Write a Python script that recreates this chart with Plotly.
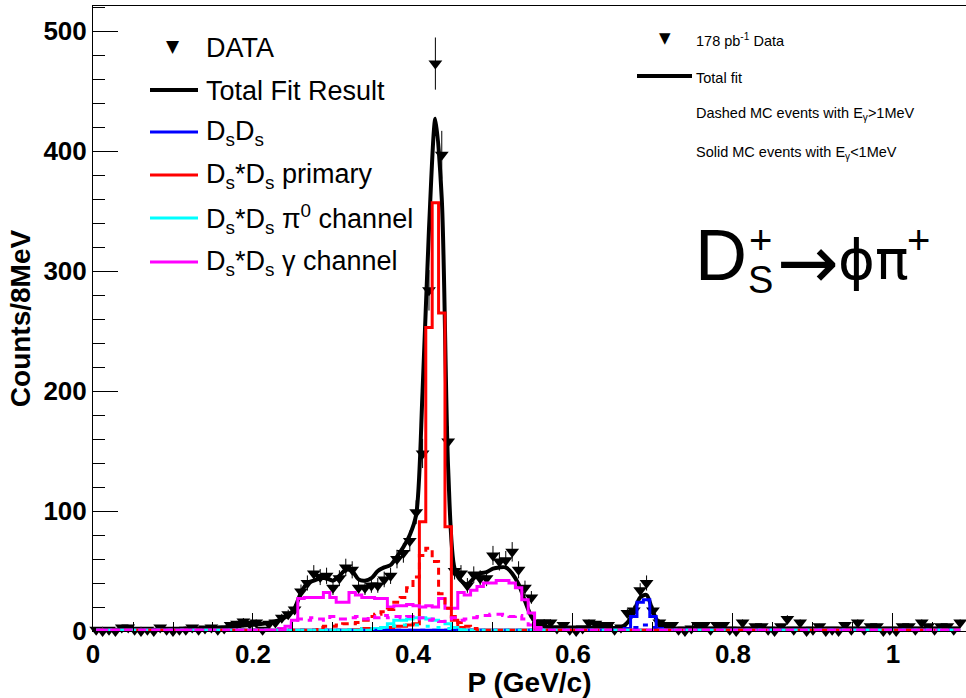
import numpy as np
import plotly.graph_objects as go

# ---------------- data ----------------
bin_width = 0.008           # GeV/c  (8 MeV bins)
n_bins = 136
bin_centers = [round(0.004 + bin_width * k, 4) for k in range(n_bins)]

data_counts = [
    1, 0, 1, 0, 3, 3, 1, 0, 1, 0,
    3, 1, 0, 1, 1, 3, 1, 2, 3, 1,
    2, 5, 6, 8, 6, 7, 1, 6, 7, 11,
    14, 18, 33, 40, 48, 45, 46, 36, 44, 53,
    51, 36, 36, 38, 38, 43, 46, 60, 65, 75,
    99, 148, 284, 473, 397, 158, 50, 48, 38, 47,
    44, 44, 63, 58, 59, 66, 51, 36, 28, 7,
    7, 7, 2, 5, 1, 0, 2, 7, 6, 5,
    5, 1, 3, 15, 17, 34, 40, 17, 7, 5,
    5, 1, 0, 2, 5, 5, 1, 5, 5, 1,
    0, 7, 1, 4, 4, 1, 0, 4, 10, 1,
    7, 0, 1, 4, 0, 1, 0, 5, 1, 7,
    1, 4, 4, 0, 1, 0, 4, 4, 1, 7,
    4, 1, 4, 4, 1, 7,
]

fit_values = [
    1, 1, 1, 1, 1, 1, 1, 1, 1, 1,
    1, 1.5, 1.5, 1.5, 2, 2, 2, 2, 2.5, 2.5,
    3, 3.5, 4, 4.5, 5, 5.5, 6, 7, 8, 10,
    13, 19, 32, 40, 42, 44, 44, 42, 46, 51,
    50, 43, 42, 44, 50, 53, 55, 62, 70, 80,
    97, 200, 335, 427, 360, 135, 52, 42, 39, 44,
    48, 49, 52, 53, 53, 48, 39, 25, 12, 6,
    4, 3, 3, 3, 3, 3, 3, 3, 2.5, 2.5,
    2.5, 2.5, 3, 7, 16, 28, 30, 16, 6, 3,
    2, 2, 2, 2, 2, 2, 2, 2, 2, 2,
    2, 2, 2, 2, 2, 2, 2, 2, 2, 2,
    2, 2, 2, 2, 2, 2, 2, 2, 2, 2,
    2, 2, 2, 2, 2, 2, 2, 2, 2, 2,
    2, 2, 2, 2, 2, 2,
]

# MC component histograms: first non-empty bin index + bin contents
mc_floor = 0.6
dsds_solid_start, dsds_solid = 83, [2, 12, 24, 26, 12, 2]
dsds_dashed_start, dsds_dashed = 84, [3, 5, 5, 3]
primary_solid_start, primary_solid = 40, [1, 1, 2, 2, 2, 3, 3, 4, 4, 5,
                                          6, 91, 253, 357, 265, 87, 9, 3]
primary_dashed_start, primary_dashed = 35, [3, 4, 4, 5, 6, 6, 7, 9, 12, 14,
                                            16, 18, 24, 28, 36, 45, 63, 69, 58, 31,
                                            19, 12, 7, 4, 2]
pi0_solid_start, pi0_solid = 44, [2, 3, 6, 9, 9, 10, 11, 11, 10, 9, 8, 6, 3, 1]
pi0_dashed_start, pi0_dashed = 40, [1, 1, 2, 2, 3, 3, 4, 4, 5, 5, 5, 4, 4, 3, 3, 2, 2, 1]
gamma_solid_start, gamma_solid = 29, [2, 4, 9, 27, 28, 28, 28, 32, 28, 24,
                                      24, 32, 30, 28, 28, 27, 27, 20, 21, 21,
                                      22, 21, 20, 21, 20, 27, 19, 19, 32, 30,
                                      34, 37, 40, 40, 42, 42, 40, 36, 26, 15, 3]
gamma_dashed_start, gamma_dashed = 30, [3, 7, 10, 9, 11, 10, 9, 12, 10, 10,
                                        11, 12, 10, 12, 11, 13, 11, 12, 11, 12,
                                        10, 11, 9, 10, 8, 10, 11, 9, 10, 11,
                                        12, 13, 14, 14, 13, 12, 13, 10, 5, 1]

x_tick_vals = [0, 0.2, 0.4, 0.6, 0.8, 1.0]
x_tick_text = ["0", "0.2", "0.4", "0.6", "0.8", "1"]
y_tick_vals = [0, 100, 200, 300, 400, 500]
y_tick_text = ["0", "100", "200", "300", "400", "500"]


def full_hist(start, vals):
    arr = [mc_floor] * n_bins
    for i, v in enumerate(vals):
        arr[start + i] = max(v, mc_floor)
    return arr


data_errors = np.sqrt(np.array(data_counts, dtype=float))  # Poisson errors

BLUE, RED, CYAN, MAG = "#0000ff", "#ff0000", "#00ffff", "#ff00ff"
FONT = "Liberation Sans, Arial, sans-serif"

fig = go.Figure()

# total fit
fig.add_trace(go.Scatter(x=bin_centers, y=fit_values, mode="lines",
                         line=dict(color="black", width=4, shape="spline", smoothing=0.8),
                         hoverinfo="skip"))
# data
fig.add_trace(go.Scatter(x=bin_centers, y=data_counts, mode="markers",
                         marker=dict(symbol="triangle-down", size=12, color="black"),
                         error_y=dict(type="data", array=data_errors, thickness=1,
                                      width=0, color="black"),
                         cliponaxis=False))

solids = [(dsds_solid_start, dsds_solid, BLUE), (primary_solid_start, primary_solid, RED),
          (pi0_solid_start, pi0_solid, CYAN), (gamma_solid_start, gamma_solid, MAG)]
for s, v, c in solids:
    fig.add_trace(go.Scatter(x=bin_centers, y=full_hist(s, v), mode="lines",
                             line=dict(color=c, width=3, shape="hvh")))

dashes = [(dsds_dashed_start, dsds_dashed, BLUE, "5px,7px"),
          (primary_dashed_start, primary_dashed, RED, "7px,5px"),
          (pi0_dashed_start, pi0_dashed, CYAN, "4px,8px"),
          (gamma_dashed_start, gamma_dashed, MAG, "8px,6px")]
for s, v, c, d in dashes:
    fig.add_trace(go.Scatter(x=bin_centers, y=full_hist(s, v), mode="lines",
                             line=dict(color=c, width=3, shape="hvh", dash=d)))

# ---------------- layout ----------------
L, T, R, B = 93, 6, 966, 631


def pp(px, py):
    return (px - L) / (R - L), (B - py) / (B - T)


annotations = []
shapes = []


def text(px, py, s, size, anchor="left", family=FONT, color="black"):
    x, y = pp(px, py)
    annotations.append(dict(x=x, y=y, xref="paper", yref="paper", text=s, showarrow=False,
                            xanchor=anchor, yanchor="middle", borderpad=0,
                            font=dict(family=family, size=size, color=color)))


def hline(px0, px1, py, color, width):
    x0, y = pp(px0, py)
    x1, _ = pp(px1, py)
    shapes.append(dict(type="line", xref="paper", yref="paper", x0=x0, x1=x1, y0=y, y1=y,
                       line=dict(color=color, width=width)))


# left legend
text(173, 46, "▼", 17, anchor="center", family="DejaVu Sans")
text(205, 48, "DATA", 27)
legend_rows = [
    (90, "black", 4, "Total Fit Result"),
    (132, BLUE, 3, "D<sub>s</sub>D<sub>s</sub>"),
    (175, RED, 3, "D<sub>s</sub>*D<sub>s</sub> primary"),
    (218, CYAN, 3, "D<sub>s</sub>*D<sub>s</sub> π<sup>0</sup> channel"),
    (262, MAG, 3, "D<sub>s</sub>*D<sub>s</sub> γ channel"),
]
for py, col, w, s in legend_rows:
    hline(150, 198, py, col, w)
    text(205, py + 1, s, 27)

# right legend
text(665, 38, "▼", 15, anchor="center", family="DejaVu Sans")
text(695, 40, "178 pb<sup>-1</sup> Data", 14.5)
hline(637, 692, 76, "black", 4)
text(695, 78, "Total fit", 14.5)
text(695, 114, "Dashed MC events with E<sub>γ</sub>&gt;1MeV", 14.5)
text(695, 153, "Solid MC events with E<sub>γ</sub>&lt;1MeV", 14.5)

# decay formula
text(694, 255, "D", 72)
text(760, 240, "+", 40, anchor="center")
text(760, 280, "S", 38, anchor="center")
text(776, 262, "→", 74, family="DejaVu Sans")
text(837, 259, "ϕπ", 56, family="DejaVu Sans")
text(918, 240, "+", 40, anchor="center")

axis_font = dict(family=FONT, size=26, color="black", weight="bold")
title_font = dict(family=FONT, size=28, color="black", weight="bold")

fig.update_layout(
    width=966, height=698,
    margin=dict(l=L, r=0, t=T, b=698 - B, autoexpand=False),
    plot_bgcolor="white", paper_bgcolor="white",
    showlegend=False,
    annotations=annotations, shapes=shapes,
    xaxis=dict(range=[0, 1.0913], showline=True, linecolor="black", linewidth=1, mirror=True,
               ticks="inside", ticklen=18, tickwidth=1, tickcolor="black",
               tickvals=x_tick_vals, ticktext=x_tick_text,
               minor=dict(dtick=0.05, tick0=0, ticks="inside", ticklen=9, tickcolor="black",
                          showgrid=False),
               showgrid=False, zeroline=False, tickfont=axis_font, automargin=False,
               title=dict(text="P (GeV/c)", font=title_font, standoff=9)),
    yaxis=dict(range=[0, 521], showline=True, linecolor="black", linewidth=1, mirror=False,
               ticks="inside", ticklen=25, tickwidth=1, tickcolor="black",
               tickvals=y_tick_vals, ticktext=y_tick_text,
               minor=dict(dtick=20, tick0=0, ticks="inside", ticklen=12, tickcolor="black",
                          showgrid=False),
               showgrid=False, zeroline=False, tickfont=axis_font, automargin=False,
               title=dict(text="Counts/8MeV", font=title_font, standoff=4)),
)

fig.write_html("out.html", config={"displayModeBar": False},
               post_script="document.body.style.margin='0px';document.body.style.overflow='hidden';")
